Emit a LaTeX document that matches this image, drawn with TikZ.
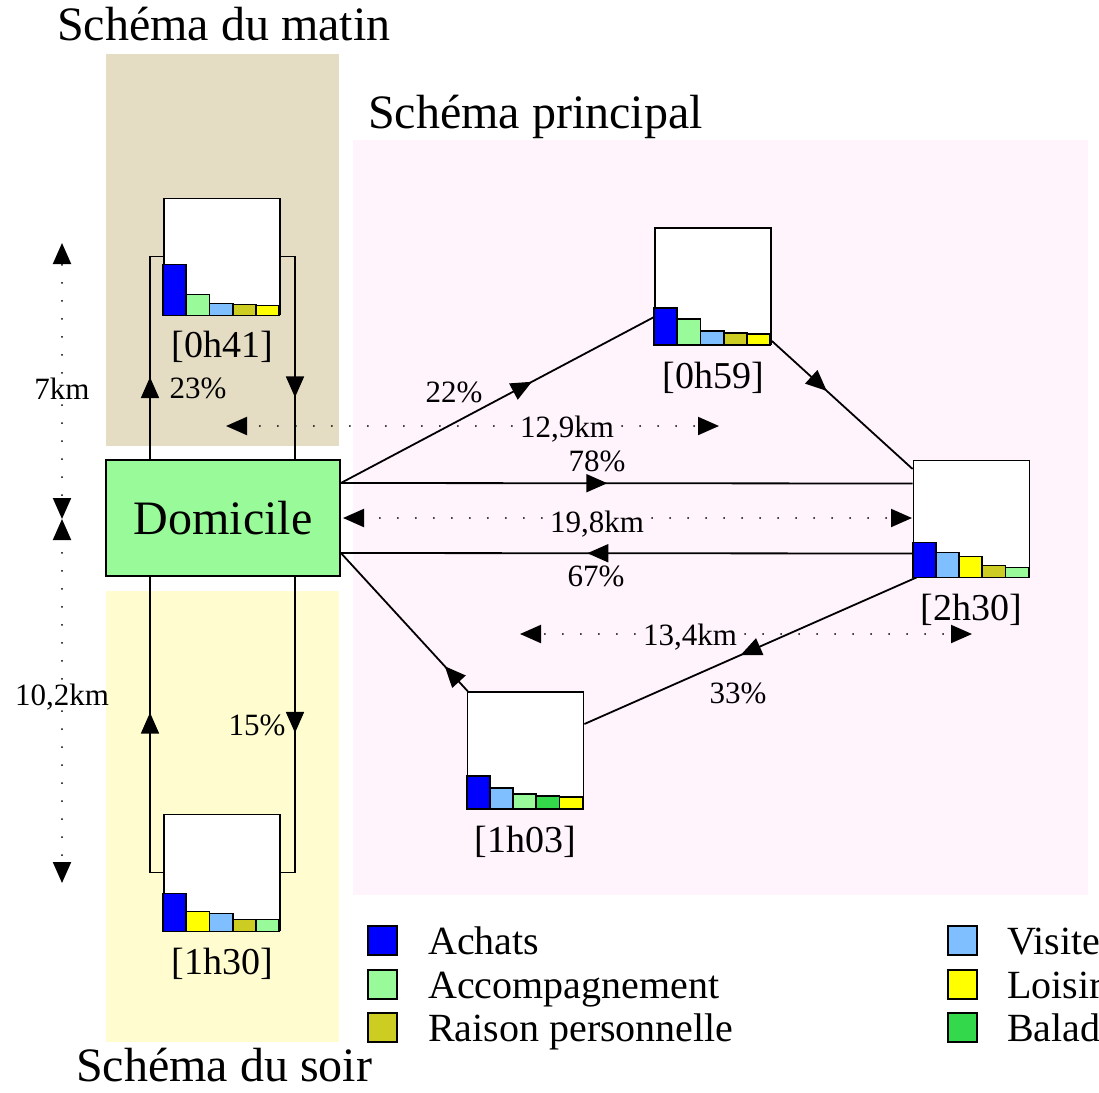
\documentclass[tikz,border=0pt]{standalone}
\usepackage{fontspec}
\setmainfont{Liberation Serif}
\usetikzlibrary{arrows.meta,decorations.markings,calc}

\definecolor{tanbg}{HTML}{E5DDC3}
\definecolor{yelbg}{HTML}{FFFDD0}
\definecolor{pinkbg}{HTML}{FFF3FC}
\definecolor{cAch}{HTML}{0000FF}
\definecolor{cAcc}{HTML}{99FA99}
\definecolor{cRai}{HTML}{CCCC22}
\definecolor{cVis}{HTML}{80BFFF}
\definecolor{cLoi}{HTML}{FFFF00}
\definecolor{cBal}{HTML}{33D94A}

\tikzset{
  >={Triangle[length=21pt,width=18pt]},
  conn/.style={line width=1.8pt},
  arrowat/.style={postaction={decorate,decoration={markings,mark=at position #1 with {\arrow{>}}}}},
  dist/.style={line width=2pt, line cap=round, dash pattern=on 0pt off 18pt, ->},
  chartbox/.style={draw, fill=white, line width=1.8pt, minimum width=116pt, minimum height=116pt, inner sep=0pt},
  timelab/.style={font=\fontsize{38}{44}\selectfont, inner sep=0pt, anchor=base},
  pct/.style={font=\fontsize{31}{36}\selectfont, inner sep=0pt, anchor=base},
  km/.style={font=\fontsize{31}{36}\selectfont, inner xsep=8pt, inner ysep=6pt, text height=20pt, text depth=0pt},
  title/.style={font=\fontsize{48}{56}\selectfont, inner sep=0pt, anchor=base west},
  legbox/.style={draw, line width=1.8pt, minimum size=29pt, inner sep=0pt},
  legtext/.style={font=\fontsize{40}{46}\selectfont, inner sep=0pt, anchor=base west},
}

\newcommand\chartbars[2]{%
  \begin{scope}[shift={(#1.south west)}]
    \foreach \c/\h [count=\i from 0] in {#2} {
      \draw[line width=1.8pt, fill=\c] (\i*23.2,0) rectangle ++(23.2,-\h);
    }
  \end{scope}}

\begin{document}
\begin{tikzpicture}[x=1pt,y=-1pt]
\useasboundingbox (0,0) rectangle (1099,1092);

% backgrounds
\fill[tanbg] (106,54) rectangle (339,446);
\fill[yelbg] (106,591) rectangle (339,1042);
\fill[pinkbg] (353,140) rectangle (1088,895);

% titles
\node[title] (tmatin) at (57,40) {Schéma du matin};
\node[title] (tprinc) at (368,128) {Schéma principal};
\node[title] (tsoir) at (76,1081) {Schéma du soir};

% nodes
\node[draw, fill=cAcc, line width=1.8pt, minimum width=234pt, minimum height=116pt,
      inner sep=0pt, font=\fontsize{48}{56}\selectfont] (dom) at (223,518) {Domicile};
\node[chartbox] (b41) at (222,256.5) {};
\node[chartbox] (b59) at (713,286) {};
\node[chartbox] (b230) at (971.5,518.5) {};
\node[chartbox] (b103) at (525.5,750) {};
\node[chartbox] (b130) at (222,872.5) {};

\chartbars{b41}{cAch/51,cAcc/21,cVis/12,cRai/11,cLoi/10}
\chartbars{b59}{cAch/37,cAcc/26,cVis/14,cRai/12,cLoi/11}
\chartbars{b230}{cAch/35,cVis/25,cLoi/21,cRai/12,cAcc/10}
\chartbars{b103}{cAch/33,cVis/21,cAcc/15,cBal/13,cLoi/12}
\chartbars{b130}{cAch/38,cLoi/20,cVis/18,cRai/12,cAcc/12}

\node[timelab] (t41) at ($(b41.south)+(0,42)$) {[0h41]};
\node[timelab] (t59) at ($(b59.south)+(0,44)$) {[0h59]};
\node[timelab] (t230) at ($(b230.south)+(0,43)$) {[2h30]};
\node[timelab] (t103) at ($(b103.south)+(0,44)$) {[1h03]};
\node[timelab] (t130) at ($(b130.south)+(0,43)$) {[1h30]};

% morning / evening loops
\draw[conn, arrowat=82pt] ($(dom.north)+(-73,0)$) |- (b41.west);
\draw[conn, arrowat=155pt] (b41.east) -| ($(dom.north)+(72,0)$);
\draw[conn, arrowat=173pt] (b130.west) -| ($(dom.south)+(-73,0)$);
\draw[conn, arrowat=156pt] ($(dom.south)+(72,0)$) |- (b130.east);

% main connectors
\coordinate (dA) at ($(dom.east)+(0,-35)$);
\coordinate (dB) at ($(dom.east)+(0,35)$);
\draw[conn, arrowat=0.61] (dA) -- ($(b59.west)+(0,31)$);
\draw[conn, arrowat=0.39] ($(b59.east)+(0,55)$) -- ($(b230.west)+(0,-49.5)$);
\draw[conn, arrowat=0.466] (dA) -- ($(b230.west)+(0,-35)$);
\draw[conn, arrowat=0.569] ($(b230.west)+(0,35)$) -- (dB);
\draw[conn, arrowat=0.53] ($(b230.south west)+(4,0)$) -- ($(b103.east)+(0,-26)$);
\draw[conn, arrowat=0.18] ($(b103.north west)+(1,0)$) -- (dB);

% percentages
\node[pct] (p23) at (198,398) {23\%};
\node[pct] (p15) at (257,735) {15\%};
\node[pct] (p22) at (454,402) {22\%};
\node[pct] (p78) at (597,471) {78\%};
\node[pct] (p67) at (596,586) {67\%};
\node[pct] (p33) at (738,703) {33\%};

% distances
\coordinate (h1l) at (226,426);
\coordinate (h1r) at (719,426);
\coordinate (h2l) at (343,518);
\coordinate (h2r) at (912,518);
\coordinate (h3l) at (520,634);
\coordinate (h3r) at (972,634);
\coordinate (v1) at (62,243);
\coordinate (v2) at (62,519);
\coordinate (v3) at (62,883);

\node[km] (k129) at (567,427) {12,9km};
\node[km] (k198) at (597,522) {19,8km};
\node[km] (k134) at (690,635) {13,4km};
\node[km] (k7) at (62,389) {7km};
\node[km] (k102) at (62,695) {10,2km};

\draw[dist] (k129.west |- h1l) -- (h1l);
\draw[dist] (k129.east |- h1r) -- (h1r);
\draw[dist] (k198.west |- h2l) -- (h2l);
\draw[dist] (k198.east |- h2r) -- (h2r);
\draw[dist] (k134.west |- h3l) -- (h3l);
\draw[dist] (k134.east |- h3r) -- (h3r);
\draw[dist] (k7.north) -- (v1);
\draw[dist] (k7.south) -- (v2);
\draw[dist] (k102.north) -- (v2);
\draw[dist] (k102.south) -- (v3);

% legend
\node[legbox, fill=cAch] (lg1) at (382.5,940.5) {};
\node[legbox, fill=cAcc] (lg2) at (382.5,984.5) {};
\node[legbox, fill=cRai] (lg3) at (382.5,1027.5) {};
\node[legbox, fill=cVis] (lg4) at (962.5,940.5) {};
\node[legbox, fill=cLoi] (lg5) at (962.5,984.5) {};
\node[legbox, fill=cBal] (lg6) at (962.5,1027.5) {};
\node[legtext] (lt1) at (428,954) {Achats};
\node[legtext] (lt2) at (428,998) {Accompagnement};
\node[legtext] (lt3) at (428,1041) {Raison personnelle};
\node[legtext] (lt4) at (1007,954) {Visite};
\node[legtext] (lt5) at (1007,998) {Loisirs};
\node[legtext] (lt6) at (1007,1041) {Balade};
\end{tikzpicture}
\end{document}
